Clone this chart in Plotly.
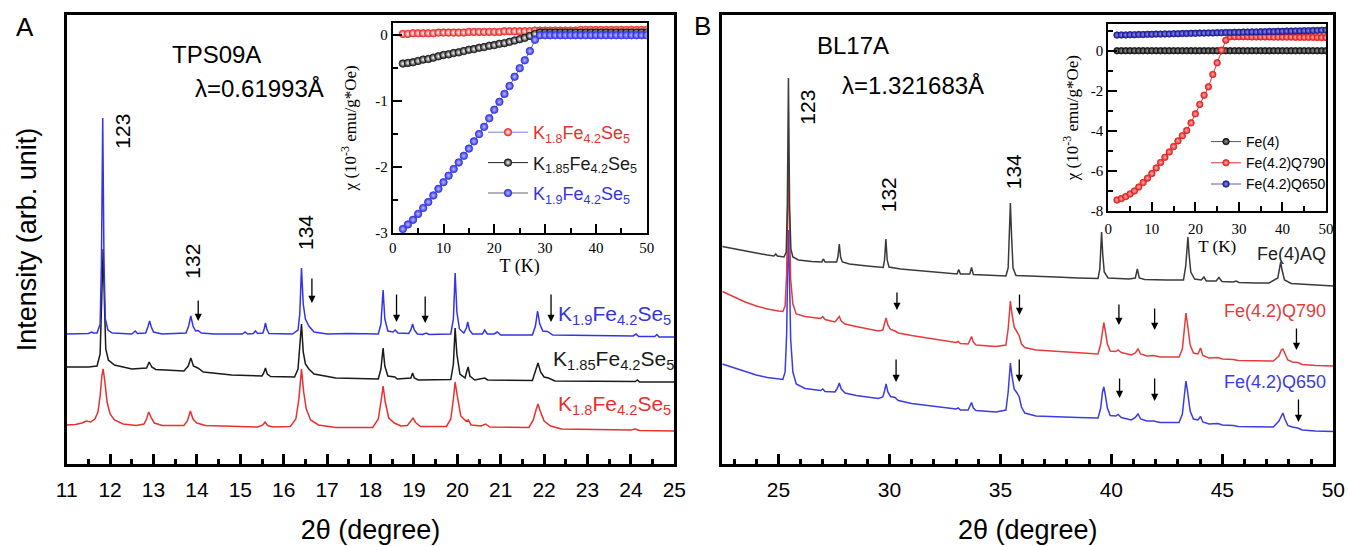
import plotly.graph_objects as go

# ---------------- Panel A : TPS09A XRD (2theta in degree, intensity arb.) ----------------
a_blue_x = [11.00, 11.50, 11.58, 11.62, 11.70, 11.77, 11.80, 11.83, 11.86, 11.89, 11.95, 12.05, 12.50, 12.58, 12.63,
            12.82, 12.87, 12.91, 12.95, 13.00, 13.20, 13.75, 13.81, 13.86, 13.91, 13.97, 14.03, 14.10, 14.40, 15.05,
            15.11, 15.17, 15.30, 15.35, 15.40, 15.52, 15.55, 15.58, 15.61, 15.66, 16.20, 16.33, 16.37, 16.41, 16.45,
            16.50, 16.58, 16.70, 17.00, 17.50, 18.18, 18.24, 18.29, 18.33, 18.40, 18.52, 18.57, 18.63, 18.88, 18.93,
            18.97, 19.01, 19.08, 19.20, 19.28, 19.35, 19.85, 19.91, 19.95, 19.99, 20.05, 20.15, 20.21, 20.24, 20.28,
            20.35, 20.58, 20.63, 20.69, 20.85, 20.92, 21.00, 21.73, 21.80, 21.85, 21.90, 21.97, 22.08, 22.20, 23.50,
            24.05, 24.12, 24.18, 24.55, 24.60, 24.65, 25.00]
a_blue_y = [130, 130.5, 132, 131, 131, 140, 200, 346, 200, 145, 134, 131, 130, 133, 130.5,
            131, 137, 143, 137, 132, 130, 131, 138, 148, 138, 133, 133.5, 131, 130, 130,
            132, 130, 130.5, 133, 130.5, 131, 135, 141, 135, 130.5, 130, 134, 150, 196, 160,
            145, 138, 132, 130, 130.5, 130, 140, 174, 145, 133, 132, 134, 131, 130.5, 134,
            140, 134, 130, 129.5, 131, 129.5, 130, 145, 191, 152, 135, 131, 136, 142, 134,
            130, 130, 134, 130, 130, 132, 129, 129, 138, 153, 140, 133, 132.5, 129, 128,
            128, 130, 127.5, 127.5, 129.5, 127, 127]

a_black_x = [11.00, 11.50, 11.70, 11.77, 11.81, 11.84, 11.87, 11.90, 11.96, 12.10, 12.50, 12.84, 12.90, 12.96, 13.05,
             13.70, 13.80, 13.86, 13.92, 14.02, 14.15, 14.80, 15.50, 15.54, 15.58, 15.62, 15.70, 16.25, 16.33, 16.37,
             16.41, 16.45, 16.50, 16.58, 16.70, 17.20, 18.18, 18.24, 18.29, 18.33, 18.40, 18.56, 18.62, 18.93, 18.97,
             19.01, 19.10, 19.85, 19.91, 19.95, 19.99, 20.06, 20.18, 20.22, 20.25, 20.29, 20.40, 20.63, 20.70, 21.73,
             21.80, 21.86, 21.92, 22.00, 22.10, 22.25, 24.10, 24.15, 24.20, 25.00]
a_black_y = [97, 97, 98, 110, 170, 215, 160, 115, 104, 99, 95, 96, 102, 97, 94.5,
             93, 98, 106, 98, 96, 92, 89, 88, 91, 96, 90, 87.5, 87, 95, 115,
             140, 112, 100, 95, 90, 86, 85, 95, 116, 98, 88, 87, 85, 86, 91,
             86, 84, 84.5, 100, 136, 110, 90, 86, 93, 97, 88, 84, 86, 84, 83.5,
             92, 101, 92, 87, 86, 83, 82.5, 84, 82, 82]

a_red_x = [11.00, 11.20, 11.35, 11.45, 11.55, 11.65, 11.72, 11.77, 11.81, 11.84, 11.88, 11.93, 12.00, 12.10, 12.30,
           12.60, 12.78, 12.84, 12.89, 12.95, 13.02, 13.20, 13.70, 13.78, 13.85, 13.91, 14.00, 14.20, 15.40, 15.52,
           15.57, 15.63, 15.75, 16.15, 16.28, 16.35, 16.41, 16.46, 16.52, 16.62, 16.80, 17.20, 18.05, 18.18, 18.25,
           18.29, 18.34, 18.42, 18.55, 18.60, 18.70, 18.85, 18.93, 18.98, 19.04, 19.15, 19.75, 19.85, 19.91, 19.95,
           20.00, 20.08, 20.20, 20.25, 20.32, 20.55, 20.65, 20.75, 21.65, 21.75, 21.82, 21.86, 21.91, 22.00, 22.15,
           22.40, 24.00, 24.10, 24.20, 25.00]
a_red_y = [39, 39.5, 41, 43, 42, 45, 52, 68, 88, 95, 82, 62, 50, 44, 40,
           38.5, 40, 45, 52, 46, 41, 38.5, 38.5, 43, 53, 45, 41, 38.5, 37, 39,
           42, 38.5, 37, 37.5, 45, 65, 95, 72, 55, 44, 39, 36.5, 36.5, 45, 65,
           78, 62, 46, 41, 40, 38, 38.5, 43, 46, 41.5, 37.5, 37.5, 45, 65, 82,
           68, 48, 43, 44, 39, 38, 40, 37, 36.5, 44, 55, 60, 53, 43, 38,
           35, 34, 35, 33.5, 33]

# ---------------- Panel B : BL17A XRD ----------------
b_black_x = [22.47, 23.00, 23.50, 24.00, 24.50, 24.80, 24.88, 24.95, 25.25, 25.35, 25.40, 25.45, 25.50, 25.56, 25.65,
             25.90, 26.50, 26.95, 27.03, 27.10, 27.62, 27.68, 27.74, 27.80, 27.88, 28.20, 29.00, 29.72, 29.78, 29.84,
             29.90, 29.98, 30.50, 31.50, 32.50, 33.05, 33.12, 33.20, 33.62, 33.70, 33.78, 34.50, 35.25, 35.35, 35.41,
             35.45, 35.50, 35.57, 35.70, 36.50, 37.50, 38.50, 39.40, 39.48, 39.53, 39.56, 39.61, 39.68, 39.85, 40.80,
             41.08, 41.17, 41.26, 41.50, 42.50, 43.25, 43.35, 43.41, 43.45, 43.50, 43.58, 43.75, 44.05, 44.17, 44.28,
             44.72, 44.85, 44.98, 45.50, 45.62, 45.75, 46.50, 47.10, 47.50, 47.58, 47.63, 47.69, 47.80, 48.10, 49.00,
             50.00]
b_black_y = [217.5, 215.5, 213, 211, 209, 208, 210, 208, 207, 212, 260, 386, 260, 215, 207,
             204, 202.5, 202, 205, 202, 202, 207, 220, 207, 202, 200, 198, 196.5, 204, 225,
             204, 197, 195, 193, 191, 190, 194.5, 190, 190, 196.5, 189.5, 188.5, 188, 196, 230,
             261, 230, 196, 188.5, 187.5, 187, 186, 185.5, 195, 215, 232, 210, 192, 186, 185,
             186, 195, 186, 184.5, 184, 184, 198, 215, 227, 210, 192, 185, 184, 187, 183,
             183, 186.5, 182.5, 182, 183, 181.5, 181, 181, 186, 196, 202, 194, 184, 180.5, 179,
             178]

b_red_x = [22.47, 23.00, 23.50, 24.00, 24.50, 25.00, 25.20, 25.30, 25.37, 25.42, 25.45, 25.49, 25.55, 25.65, 25.80,
           26.20, 26.90, 27.00, 27.10, 27.55, 27.66, 27.74, 27.83, 28.00, 28.50, 29.50, 29.70, 29.78, 29.85, 29.93,
           30.05, 30.25, 30.40, 31.00, 32.00, 33.00, 33.10, 33.20, 33.55, 33.63, 33.70, 33.78, 33.90, 34.80, 35.25,
           35.35, 35.41, 35.45, 35.52, 35.62, 35.75, 35.85, 35.95, 36.10, 36.60, 37.50, 38.50, 39.40, 39.52, 39.60,
           39.66, 39.72, 39.82, 39.95, 40.20, 40.30, 40.45, 40.90, 41.08, 41.20, 41.32, 41.60, 41.90, 42.20, 43.05,
           43.20, 43.30, 43.36, 43.43, 43.55, 43.70, 43.90, 44.02, 44.12, 44.40, 44.80, 45.00, 45.50, 45.70, 47.30,
           47.55, 47.66, 47.73, 47.82, 47.95, 48.15, 48.40, 48.60, 49.20, 50.00]
b_red_y = [172.5, 167, 162, 158, 155, 153, 152.5, 158, 190, 260, 299, 250, 185, 160, 150,
           147.5, 145.5, 147.5, 144.5, 142, 145, 147.5, 143, 140, 137.5, 133, 134, 140, 146, 139,
           134.5, 133, 131, 128.5, 125, 121.5, 122.5, 120.5, 120, 124, 127.5, 122, 119, 117.5, 119,
           135, 155, 163, 150, 137, 132, 128, 120, 116.5, 114, 112.5, 111, 110, 120, 136,
           141.5, 134, 120, 113, 112.5, 114, 111.5, 109, 111, 115, 110, 108, 108.5, 107, 107,
           115, 140, 151, 140, 119, 111, 110, 116, 108.5, 106, 106.5, 105, 104.5, 103.5, 103,
           108, 114, 115, 110, 104, 102, 101.5, 99.5, 98.5, 98]

b_blue_x = b_red_x
b_blue_y = [100, 96, 92, 89, 86.5, 85, 84.5, 92, 130, 200, 234, 195, 125, 92, 80,
            75.5, 73.5, 75, 72.5, 72, 76, 81, 75, 71, 68.5, 65.5, 67, 73, 80, 72,
            67.5, 66.5, 63.5, 60.5, 57.5, 55, 56, 54, 54, 58, 61.5, 56, 53.5, 52, 54,
            72, 93, 101, 88, 75, 71, 67, 57, 51, 48, 47, 46.5, 46, 56, 72,
            77, 70, 56, 48.5, 48, 49.5, 46.5, 44, 46.5, 50, 45, 43, 43, 41.5, 41.5,
            50, 73, 83, 73, 53, 45, 44, 47.5, 42, 40, 40.5, 39, 38.5, 37.5, 37,
            43, 49, 51, 45, 38.5, 37, 36, 34, 33, 32.5]

# ---------------- Inset A : chi(T), 10^-3 emu/g*Oe ----------------
ia_T = [2, 3, 4, 5, 6, 7, 8, 9, 10, 11, 12, 13, 14, 15, 16, 17, 18, 19, 20, 21, 22, 23, 24, 25, 26,
        27, 28, 29, 30, 31, 32, 33, 34, 35, 36, 37, 38, 39, 40, 41, 42, 43, 44, 45, 46, 47, 48, 49, 50]
ia_red = [0.02, 0.02, 0.03, 0.03, 0.03, 0.03, 0.03, 0.04, 0.04, 0.04, 0.04, 0.04, 0.04, 0.05, 0.05, 0.05, 0.05,
          0.05, 0.05, 0.05, 0.06, 0.06, 0.06, 0.06, 0.06, 0.06, 0.07, 0.07, 0.07, 0.07, 0.07, 0.07, 0.07, 0.07,
          0.07, 0.08, 0.08, 0.08, 0.08, 0.08, 0.08, 0.08, 0.08, 0.08, 0.08, 0.08, 0.08, 0.08, 0.08]
ia_black = [-0.43, -0.42, -0.41, -0.39, -0.37, -0.36, -0.34, -0.32, -0.30, -0.29, -0.27, -0.26, -0.24, -0.22,
            -0.21, -0.19, -0.18, -0.16, -0.15, -0.13, -0.12, -0.10, -0.08, -0.06, -0.04, -0.01, 0.02, 0.04, 0.04,
            0.04, 0.04, 0.04, 0.04, 0.04, 0.04, 0.04, 0.04, 0.04, 0.04, 0.04, 0.04, 0.04, 0.04, 0.04, 0.04, 0.04,
            0.04, 0.04, 0.04]
ia_blue = [-2.94, -2.87, -2.80, -2.71, -2.62, -2.53, -2.43, -2.33, -2.23, -2.13, -2.03, -1.93, -1.83, -1.72,
           -1.61, -1.50, -1.39, -1.26, -1.13, -1.01, -0.89, -0.77, -0.63, -0.50, -0.38, -0.24, -0.07, 0.0, 0.0,
           0.0, 0.0, 0.0, 0.0, 0.0, 0.0, 0.0, 0.0, 0.0, 0.0, 0.0, 0.0, 0.0, 0.0, 0.0, 0.0, 0.0, 0.0, 0.0, 0.0]

# ---------------- Inset B ----------------
ib_T = ia_T
ib_black = [0.0, 0.0, 0.0, 0.0, 0.0, 0.0, 0.0, 0.0, 0.0, 0.0, 0.0, 0.0, 0.0, 0.0, 0.0, 0.0, 0.0, 0.0, 0.0, 0.0,
            0.0, 0.0, 0.0, 0.0, 0.0, 0.0, 0.0, 0.0, 0.0, 0.0, 0.0, 0.0, 0.0, 0.0, 0.0, 0.0, 0.0, 0.0, 0.0, 0.0,
            0.0, 0.0, 0.0, 0.0, 0.0, 0.0, 0.0, 0.0, 0.0]
ib_red = [-7.45, -7.38, -7.28, -7.15, -7.00, -6.80, -6.58, -6.36, -6.13, -5.85, -5.58, -5.32, -5.05, -4.78,
          -4.50, -4.24, -3.98, -3.60, -3.15, -2.68, -2.22, -1.80, -1.18, -0.60, 0.03, 0.53, 0.70, 0.70, 0.70,
          0.70, 0.70, 0.69, 0.69, 0.69, 0.69, 0.69, 0.68, 0.68, 0.68, 0.68, 0.68, 0.67, 0.67, 0.67, 0.67, 0.67,
          0.66, 0.66, 0.66]
ib_blue = [0.78, 0.79, 0.79, 0.80, 0.80, 0.81, 0.81, 0.82, 0.82, 0.83, 0.83, 0.84, 0.84, 0.85, 0.85, 0.86, 0.86,
           0.87, 0.87, 0.88, 0.88, 0.89, 0.89, 0.90, 0.90, 0.91, 0.91, 0.92, 0.92, 0.93, 0.93, 0.94, 0.94, 0.95,
           0.95, 0.96, 0.96, 0.97, 0.97, 0.98, 0.98, 0.99, 0.99, 1.00, 1.00, 1.01, 1.01, 1.02, 1.02]

SANS = "Liberation Sans, Arial, sans-serif"
SERIF = "Liberation Serif, Times New Roman, serif"
W, H = 1348, 546
MT, MB = 15, 82
PH = H - MT - MB


def px_x(px):
    return px / W


def px_y(py):
    return (H - MB - py) / PH


RED, BLACK, BLUE = "#e8302e", "#1a1a1a", "#3434e4"
B_BLACK, B_RED, B_BLUE = "#3a3a3a", "#e23c3c", "#3c3ce0"

fig = go.Figure()

# main traces A
for xs, ys, c in [(a_red_x, a_red_y, RED), (a_black_x, a_black_y, BLACK), (a_blue_x, a_blue_y, BLUE)]:
    fig.add_trace(go.Scatter(x=xs, y=ys, mode="lines", line=dict(color=c, width=1.5),
                             showlegend=False, xaxis="x", yaxis="y", hoverinfo="skip"))
# main traces B
for xs, ys, c in [(b_blue_x, b_blue_y, B_BLUE), (b_red_x, b_red_y, B_RED), (b_black_x, b_black_y, B_BLACK)]:
    fig.add_trace(go.Scatter(x=xs, y=ys, mode="lines", line=dict(color=c, width=1.5),
                             showlegend=False, xaxis="x2", yaxis="y2", hoverinfo="skip"))


def ball(col, center, size):
    return dict(symbol="circle", size=size, color=col, line=dict(color=col, width=0.8),
                gradient=dict(type="radial", color=center))


# inset A
ia_series = [
    (ia_red, RED, "#ffffff", "#6f7fd8", "K<sub>1.8</sub>Fe<sub>4.2</sub>Se<sub>5</sub>", "ga1"),
    (ia_black, BLACK, "#ffffff", "#222222", "K<sub>1.85</sub>Fe<sub>4.2</sub>Se<sub>5</sub>", "ga2"),
    (ia_blue, BLUE, "#b8bcff", "#666666", "K<sub>1.9</sub>Fe<sub>4.2</sub>Se<sub>5</sub>", "ga3"),
]
for ys, c, cen, lc, name, grp in ia_series:
    fig.add_trace(go.Scatter(x=ia_T, y=ys, mode="lines+markers", line=dict(color=lc, width=1),
                             marker=ball(c, cen, 7.5),
                             name=f"<span style='color:{c}'>{name}</span>", legendgroup=grp,
                             legend="legend", xaxis="x3", yaxis="y3", hoverinfo="skip"))

# inset B
ib_series = [
    (ib_black, "#111111", "#9a9a9a", "#555555", "Fe(4)", "gb1"),
    (ib_red, "#e02020", "#ffb0b0", "#e03030", "Fe(4.2)Q790", "gb2"),
    (ib_blue, "#1c1c8c", "#8c8cff", "#5a5ab8", "Fe(4.2)Q650", "gb3"),
]
for ys, c, cen, lc, name, grp in ib_series:
    fig.add_trace(go.Scatter(x=ib_T, y=ys, mode="lines+markers", line=dict(color=lc, width=1),
                             marker=ball(c, cen, 6.5), name=name, legendgroup=grp,
                             legend="legend2", xaxis="x4", yaxis="y4", hoverinfo="skip"))

main_axis_common = dict(showline=True, linewidth=3, linecolor="black", mirror=True, showgrid=False,
                        zeroline=False, automargin=False)

xA = dict(domain=[px_x(66.7), px_x(674.3)], range=[11, 25], anchor="y",
          ticks="inside", ticklen=10, tickwidth=2.5, tickcolor="black", ticklabeloverflow="allow",
          ticklabelstandoff=5,
          tickvals=list(range(11, 26)), tickfont=dict(family=SANS, size=21, color="black"),
          minor=dict(ticks="inside", ticklen=5, tickwidth=2.5, tickcolor="black", dtick=0.5, tick0=11.5,
                     showgrid=False),
          title=dict(text="2θ (degree)", font=dict(family=SANS, size=27, color="black"), standoff=20),
          **main_axis_common)
yA = dict(domain=[0, 1], range=[0, PH], anchor="x", showticklabels=False, ticks="",
          title=dict(text="Intensity (arb. unit)", font=dict(family=SANS, size=27, color="black"), standoff=20),
          **main_axis_common)
xB = dict(domain=[px_x(722.3), px_x(1333.3)], range=[22.47, 50], anchor="y2",
          ticks="inside", ticklen=10, tickwidth=2.5, tickcolor="black", ticklabeloverflow="allow",
          ticklabelstandoff=5,
          tickvals=[25, 30, 35, 40, 45, 50], tickfont=dict(family=SANS, size=21, color="black"),
          minor=dict(ticks="inside", ticklen=5, tickwidth=2.5, tickcolor="black", dtick=1, tick0=23,
                     showgrid=False),
          title=dict(text="2θ (degree)", font=dict(family=SANS, size=27, color="black"), standoff=20),
          **main_axis_common)
yB = dict(domain=[0, 1], range=[0, PH], anchor="x2", showticklabels=False, ticks="", **main_axis_common)

inset_common = dict(showline=True, linewidth=2, linecolor="black", mirror=True, showgrid=False, zeroline=False,
                    ticks="inside", ticklen=9, tickwidth=1.5, tickcolor="black", automargin=False,
                    ticklabeloverflow="allow", tickfont=dict(family=SERIF, size=15, color="black"))
chi_title = "χ (10<sup>-3</sup> emu/g*Oe)"

x3 = dict(domain=[px_x(392.7), px_x(646.7)], range=[0, 50], anchor="y3",
          tickvals=[0, 10, 20, 30, 40, 50],
          minor=dict(ticks="inside", ticklen=5, tickwidth=1.5, tickcolor="black", dtick=5, showgrid=False),
          title=dict(text="T (K)", font=dict(family=SERIF, size=18, color="black"), standoff=4),
          **inset_common)
y3 = dict(domain=[px_y(233), px_y(22.7)], range=[-3, 0.19], anchor="x3",
          tickvals=[-3, -2, -1, 0], ticktext=["-3", "-2", "-1", "0"],
          minor=dict(ticks="inside", ticklen=5, tickwidth=1.5, tickcolor="black", dtick=0.5, tick0=0,
                     showgrid=False),
          title=dict(text=chi_title, font=dict(family=SERIF, size=17, color="black"), standoff=14),
          **inset_common)
x4 = dict(domain=[px_x(1108.3), px_x(1326)], range=[0, 50], anchor="y4", ticklabelstandoff=3,
          tickvals=[0, 10, 20, 30, 40, 50],
          minor=dict(ticks="inside", ticklen=5, tickwidth=1.5, tickcolor="black", dtick=5, showgrid=False),
          title=dict(text="T (K)", font=dict(family=SERIF, size=17, color="black"), standoff=0),
          **inset_common)
y4 = dict(domain=[px_y(211), px_y(24.3)], range=[-8, 1.32], anchor="x4",
          tickvals=[-8, -6, -4, -2, 0], ticktext=["-8", "-6", "-4", "-2", "0"],
          minor=dict(ticks="inside", ticklen=5, tickwidth=1.5, tickcolor="black", dtick=1, tick0=0,
                     showgrid=False),
          title=dict(text=chi_title, font=dict(family=SERIF, size=17, color="black"), standoff=8),
          **inset_common)

ann = []


def txt(x, y, s, size, color="black", family=SANS, xanchor="center", angle=0):
    ann.append(dict(x=x, y=y, xref="paper", yref="paper", text=s, showarrow=False, xanchor=xanchor,
                    yanchor="middle", textangle=angle, font=dict(family=family, size=size, color=color)))


txt(px_x(25), px_y(27), "A", 26)
txt(px_x(702), px_y(26), "B", 26)
txt(px_x(216), px_y(54), "TPS09A", 24)
txt(px_x(259), px_y(88), "λ=0.61993Å", 24)
txt(px_x(853), px_y(45), "BL17A", 24)
txt(px_x(913), px_y(85), "λ=1.321683Å", 24)
# peak indices
txt(px_x(121.7), px_y(131), "123", 21, angle=-90)
txt(px_x(191.7), px_y(261), "132", 21, angle=-90)
txt(px_x(305), px_y(233), "134", 21, angle=-90)
txt(px_x(806.7), px_y(107), "123", 21, angle=-90)
txt(px_x(888.3), px_y(195), "132", 21, angle=-90)
txt(px_x(1013.3), px_y(172), "134", 21, angle=-90)
# sample labels
txt(px_x(673), px_y(315), "K<sub>1.9</sub>Fe<sub>4.2</sub>Se<sub>5</sub>", 21, BLUE, xanchor="right")
txt(px_x(676), px_y(360), "K<sub>1.85</sub>Fe<sub>4.2</sub>Se<sub>5</sub>", 21, BLACK, xanchor="right")
txt(px_x(673), px_y(405), "K<sub>1.8</sub>Fe<sub>4.2</sub>Se<sub>5</sub>", 21, RED, xanchor="right")
txt(px_x(1328), px_y(254), "Fe(4)AQ", 18, "#222222", xanchor="right")
txt(px_x(1328), px_y(311), "Fe(4.2)Q790", 18, B_RED, xanchor="right")
txt(px_x(1328), px_y(382), "Fe(4.2)Q650", 18, B_BLUE, xanchor="right")

# arrows marking extra reflections (tip position, length in px)
arrows_A = [(14.03, 321, 22), (16.65, 303, 26), (18.6, 322, 29), (19.26, 323, 28), (22.16, 322, 29)]
arrows_B = [(30.34, 310, 19), (35.86, 315, 22), (30.3, 382, 24), (35.85, 382, 24), (40.34, 325, 22),
            (41.95, 330, 23), (48.34, 350, 23), (40.37, 398, 21), (41.95, 401, 24), (48.43, 422, 24)]
for xr, yr, arr in [("x", "y", arrows_A), ("x2", "y2", arrows_B)]:
    for x, ytip, ln in arr:
        ann.append(dict(x=x, y=H - MB - ytip, xref=xr, yref=yr, ax=0, ay=-ln, axref="pixel", ayref="pixel",
                        text="", showarrow=True, arrowhead=2, arrowsize=1.1, arrowwidth=1.3,
                        arrowcolor="black", standoff=0))

fig.update_layout(
    width=W, height=H, margin=dict(l=0, r=0, t=MT, b=MB, autoexpand=False),
    paper_bgcolor="white", plot_bgcolor="white",
    xaxis=xA, yaxis=yA, xaxis2=xB, yaxis2=yB, xaxis3=x3, yaxis3=y3, xaxis4=x4, yaxis4=y4,
    annotations=ann,
    legend=dict(x=px_x(483), y=px_y(114), xanchor="left", yanchor="top", bgcolor="rgba(0,0,0,0)",
                font=dict(family=SANS, size=18), tracegroupgap=4, itemwidth=40),
    legend2=dict(x=px_x(1206), y=1 - 126 / H, yref="container", xanchor="left", yanchor="top",
                 bgcolor="rgba(0,0,0,0)", font=dict(family=SANS, size=14, color="black"),
                 tracegroupgap=0, itemwidth=30),
    showlegend=True,
)

fig.write_html("out.html", config={"displayModeBar": False},
               post_script="document.body.style.margin='0';document.body.style.overflow='hidden';")
